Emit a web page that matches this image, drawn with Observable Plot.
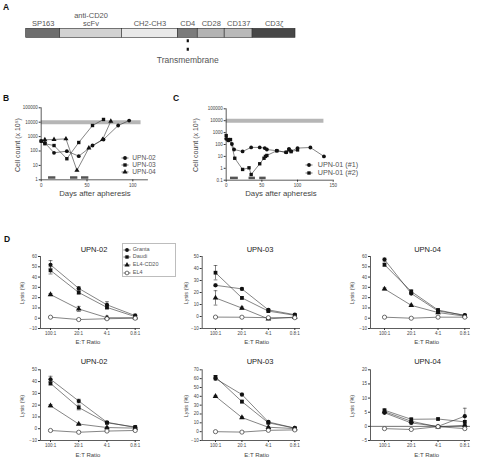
<!DOCTYPE html>
<html><head><meta charset="utf-8">
<script src="https://cdn.jsdelivr.net/npm/d3@7"></script>
<script src="https://cdn.jsdelivr.net/npm/@observablehq/plot@0.6"></script>
<style>
body{margin:0;background:#fff;}
#fig{position:relative;width:481px;height:459px;overflow:hidden;font-family:"Liberation Sans",Arial,sans-serif;color:#444;background:#fff;}
.abs{position:absolute;white-space:nowrap;line-height:1;}
</style></head><body><div id="fig"></div>
<script>
// ---------- Panel A: construct domains ----------
const domainNames = ["SP163", "anti-CD20\nscFv", "CH2-CH3", "CD4", "CD28", "CD137", "CD3ζ"];
const domainLengths = [34, 62, 56, 20, 27, 28, 43];
const domainShades = ["#6e6e6e", "#d2d2d2", "#e9e9e9", "#7b7b7b", "#b3b3b3", "#b9b9b9", "#474747"];
const transmembraneDomain = "CD4";

// ---------- Panel B: cell counts (x10^5) ----------
const upn02Days = [0, 4, 14, 28, 41, 56, 68, 84, 96];
const upn02Cells = [490, 370, 75, 98, 44, 240, 630, 5900, 13000];
const upn03Days = [0, 4, 14, 28, 41, 56, 68];
const upn03Cells = [490, 320, 240, 29, 390, 5900, 15500];
const upn04Days = [4, 14, 27, 39, 52, 67, 76];
const upn04Cells = [600, 630, 700, 4.5, 160, 630, 11800];
const targetDoseCells = 10000;
const bDoseEndDay = 109;
const bTreatments = [[8, 16], [32, 40], [44, 52]];
const bYTicks = [1, 10, 100, 1000, 10000, 100000];
const bXTicks = [0, 50, 100];

// ---------- Panel C ----------
const upn01aDays = [0, 3, 8, 11, 23, 35, 47, 54, 57, 71, 84, 88, 91, 100, 118, 137];
const upn01aCells = [300, 220, 110, 38, 26, 57, 57, 50, 38, 30, 22, 43, 28, 50, 56, 10];
const upn01bDays = [0, 3, 6, 12, 23, 32, 35, 47, 53, 55, 57, 71, 84, 88, 91, 100];
const upn01bCells = [560, 260, 260, 7, 0.8, 1.1, 0.3, 2.4, 7, 10, 12, 30, 22, 35, 25, 35];
const cDoseEndDay = 137;
const cTreatments = [[6, 17], [32, 41], [47, 56]];
const cYTicks = [0.1, 1, 10, 100, 1000, 10000, 100000];
const cXTicks = [0, 50, 100, 150];

// ---------- Panel D: lysis (%) ----------
const ratios = ["100:1", "20:1", "4:1", "0.8:1"];
const targets = ["Granta", "Daudi", "EL4-CD20", "EL4"];
const lysisTop02 = [[52, 29, 13, 2.5], [46.5, 25, 10.5, 1.5], [23, 9, 0.5, 0.5], [1, -1.3, -0.5, 0]];
const errTop02 = [[4, 1.5, 3, 1.5], [3.5, 1.5, 1.5, 1], [1, 2.5, 1.5, 0.5], [0.5, 0.5, 0.5, 0.5]];
const lysisTop03 = [[26, 23, 5.5, 1.5], [36.5, 15.5, 4.5, 1], [15.5, 7, -2, -0.5], [-0.5, -0.6, -1, -1]];
const errTop03 = [[1, 1, 1, 0.5], [6, 1, 1, 1], [6, 1, 0.5, 0.5], [0.5, 0.5, 0.5, 0.5]];
const lysisTop04 = [[57, 24, 7, 3], [52, 26, 8, 2.5], [28.5, 12.5, 5.5, 2], [1, 0, 1, 1]];
const errTop04 = [[1.5, 1, 1, 0.5], [1.5, 1.5, 1, 0.5], [1, 1, 0.5, 0.5], [0.5, 0.5, 0.5, 0.5]];
const lysisBot02 = [[42, 23.5, 5.5, 1], [38.5, 18, 5, 1.5], [19.5, 4, 1, 0.5], [-1.5, -3, -2, -1.5]];
const errBot02 = [[2.5, 1.5, 0.5, 0.5], [1.5, 2, 1, 0.5], [1, 0.5, 0.5, 0.5], [0.5, 0.5, 0.5, 0.5]];
const lysisBot03 = [[60, 42, 11, 4], [62, 34, 10, 4], [40, 16, 5, 3.5], [0, -0.5, 1.5, 2]];
const errBot03 = [[1.5, 1.5, 1.5, 0.5], [1.5, 1.5, 1, 0.5], [1, 1, 0.5, 0.5], [0.5, 0.5, 0.5, 0.5]];
const lysisBot04 = [[4.8, 1.2, 0, 3.6], [5.7, 2.5, 2.6, 1.6], [5.2, 1.8, -0.2, 0.4], [-0.8, -1.1, -0.1, -0.8]];
const errBot04 = [[0.3, 0.3, 0.3, 2.8], [0.4, 0.4, 0.3, 0.4], [0.3, 0.3, 0.3, 0.3], [0.2, 0.2, 0.2, 0.2]];
const ticksTop02 = [-10, 0, 10, 20, 30, 40, 50, 60];
const ticksTop03 = [-10, 0, 10, 20, 30, 40, 50];
const ticksTop04 = [-10, 0, 10, 20, 30, 40, 50, 60];
const ticksBot02 = [-10, 0, 10, 20, 30, 40, 50];
const ticksBot03 = [-10, 0, 10, 20, 30, 40, 50, 60, 70];
const ticksBot04 = [-5, 0, 5, 10, 15, 20];

// ---------- helpers ----------
const fig = document.getElementById("fig");
const FONT = "Liberation Sans, Arial, sans-serif";
const INK = "#333";
function place(node, left, top) {
  node.style.position = "absolute";
  node.style.left = left + "px";
  node.style.top = top + "px";
  fig.appendChild(node);
}
function label(text, x, y, o = {}) {
  const d = document.createElement("div");
  d.className = "abs";
  d.textContent = text;
  d.style.left = x + "px";
  d.style.top = y + "px";
  d.style.fontSize = (o.size || 7) + "px";
  d.style.fontWeight = o.weight || "normal";
  d.style.color = o.color || "#444";
  const ax = o.anchor === "start" ? "0" : "-50%";
  d.style.transform = `translate(${ax},-50%)` + (o.rotate ? ` rotate(${o.rotate}deg)` : "");
  fig.appendChild(d);
}
const symbolTypes = {circle: d3.symbolCircle, square: d3.symbolSquare, triangle: d3.symbolTriangle};
function legendItem(cx, y, sym, open, text, r, fontSize, textX) {
  const svg = d3.create("svg").attr("width", 14).attr("height", 10)
    .style("position", "absolute").style("left", (cx - 7) + "px").style("top", (y - 5) + "px").style("overflow", "visible");
  svg.append("line").attr("x1", 3.5).attr("x2", 10.5).attr("y1", 5).attr("y2", 5).attr("stroke", INK).attr("stroke-width", 0.7);
  svg.append("path").attr("transform", "translate(7,5)")
    .attr("d", d3.symbol().type(symbolTypes[sym]).size(Math.PI * r * r)())
    .attr("fill", open ? "white" : "#111").attr("stroke", open ? INK : "none").attr("stroke-width", 0.7);
  fig.appendChild(svg.node());
  label(text, textX, y, {size: fontSize, anchor: "start", color: "#555"});
}
const baseStyle = {fontFamily: FONT, fontSize: "4.5px", color: "#444", background: "transparent", overflow: "visible"};

// ---------- Panel A ----------
{
  const ends = d3.cumsum(domainLengths);
  const segs = domainNames.map((name, i) => ({
    name, shade: domainShades[i], x1: ends[i] - domainLengths[i], x2: ends[i], mid: ends[i] - domainLengths[i] / 2
  }));
  const tm = segs.filter(d => d.name === transmembraneDomain);
  const W = 320, H = 70, left = 25.7, right = 295, top = 28.3, bottom = 37.3;
  const p = Plot.plot({
    width: W, height: H, marginLeft: left, marginRight: W - right, marginTop: top, marginBottom: H - bottom,
    style: baseStyle,
    x: {domain: [0, d3.sum(domainLengths)], axis: null},
    color: {type: "identity"},
    marks: [
      Plot.barX(segs, {x1: "x1", x2: "x2", fill: "shade", stroke: "#2a2a2a", strokeWidth: 0.6}),
      Plot.text(segs, {x: "mid", text: "name", frameAnchor: "top", lineAnchor: "bottom", dy: -2.6, fontSize: 7.5, fill: "#555", lineHeight: 1.15}),
      Plot.tickX(tm, {x: "mid", insetTop: 11, insetBottom: -13.4, stroke: "#111", strokeWidth: 2.2, strokeDasharray: "3,5.4"}),
      Plot.text(tm, {x: "mid", text: () => "Transmembrane", frameAnchor: "bottom", lineAnchor: "middle", dy: 22.7, fontSize: 8.5, fill: "#555"})
    ]
  });
  place(p, 0, 0);
}

// ---------- log panels B, C ----------
function logPanel(cfg) {
  const {L, T, W, H, xLeft, xRight, xDomain, yTopPx, yBotPx, yDomain, yTicks, xTicks, series, doseEnd, treatments} = cfg;
  const rows = [];
  series.forEach(s => s.days.forEach((d, i) => rows.push({name: s.name, sym: s.sym, day: d, cells: s.cells[i]})));
  const p = Plot.plot({
    width: W, height: H,
    marginLeft: xLeft - L, marginRight: L + W - xRight, marginTop: yTopPx - T, marginBottom: T + H - yBotPx,
    style: baseStyle,
    x: {domain: xDomain, label: null},
    y: {type: "log", domain: yDomain, label: null},
    symbol: {domain: ["circle", "square", "triangle"], range: ["circle", "square", "triangle"]},
    marks: [
      Plot.ruleY([targetDoseCells], {x1: 0, x2: doseEnd, stroke: "#b6b6b6", strokeWidth: 4}),
      Plot.ruleY(treatments, {x1: d => d[0], x2: d => d[1], y: () => yDomain[0], dy: -2.3, stroke: "#555", strokeWidth: 2.5}),
      Plot.ruleX([xDomain[0]], {stroke: INK, strokeWidth: 0.8}),
      Plot.ruleY([yDomain[0]], {stroke: INK, strokeWidth: 0.8}),
      Plot.axisY(yTicks, {tickSize: 2, tickPadding: 1.5, tickFormat: d => String(d), fontSize: 4.5, stroke: INK, fill: "#444", label: null}),
      Plot.axisX(xTicks, {tickSize: 2, tickPadding: 1.5, tickFormat: d => String(d), fontSize: 4.5, stroke: INK, fill: "#444", label: null}),
      Plot.line(rows, {x: "day", y: "cells", z: "name", stroke: INK, strokeWidth: 0.6}),
      Plot.dot(rows, {x: "day", y: "cells", symbol: "sym", fill: "#111", r: 1.9})
    ]
  });
  place(p, L, T);
}

logPanel({
  L: 0, T: 95, W: 165, H: 112, xLeft: 40.7, xRight: 147.9, xDomain: [0, 117],
  yTopPx: 107.3, yBotPx: 179.3, yDomain: [1, 100000], yTicks: bYTicks, xTicks: bXTicks,
  doseEnd: bDoseEndDay, treatments: bTreatments,
  series: [
    {name: "UPN-02", sym: "circle", days: upn02Days, cells: upn02Cells},
    {name: "UPN-03", sym: "square", days: upn03Days, cells: upn03Cells},
    {name: "UPN-04", sym: "triangle", days: upn04Days, cells: upn04Cells}
  ]
});
logPanel({
  L: 170, T: 95, W: 175, H: 112, xLeft: 225.7, xRight: 332.7, xDomain: [0, 150],
  yTopPx: 108.3, yBotPx: 179.7, yDomain: [0.1, 100000], yTicks: cYTicks, xTicks: cXTicks,
  doseEnd: cDoseEndDay, treatments: cTreatments,
  series: [
    {name: "UPN-01 (#1)", sym: "circle", days: upn01aDays, cells: upn01aCells},
    {name: "UPN-01 (#2)", sym: "square", days: upn01bDays, cells: upn01bCells}
  ]
});

label("A", 3, 7, {size: 8.5, weight: "bold", anchor: "start", color: "#111"});
label("B", 3, 98, {size: 8.5, weight: "bold", anchor: "start", color: "#111"});
label("C", 173, 98, {size: 8.5, weight: "bold", anchor: "start", color: "#111"});
label("D", 4, 238.5, {size: 8.5, weight: "bold", anchor: "start", color: "#111"});

label("Days after apheresis", 95, 193.5, {size: 7.8, color: "#444"});
label("Days after apheresis", 281, 193.5, {size: 7.8, color: "#444"});
label("Cell count (x 10⁵)", 16.5, 145, {size: 7, rotate: -90, color: "#444"});
label("Cell count (x 10⁵)", 195, 145, {size: 7, rotate: -90, color: "#444"});

legendItem(125, 158.4, "circle", false, "UPN-02", 1.9, 6.6, 132.3);
legendItem(125, 165.3, "square", false, "UPN-03", 1.9, 6.6, 132.3);
legendItem(125, 172.2, "triangle", false, "UPN-04", 1.9, 6.6, 132.3);
legendItem(309.3, 165, "circle", false, "UPN-01 (#1)", 1.9, 7.2, 317.7);
legendItem(309.3, 172.6, "square", false, "UPN-01 (#2)", 1.9, 7.2, 317.7);

// ---------- D panels ----------
const dCols = [
  {L: 0, W: 160, axisX: 40, p0: 50, p3: 134.7, right: 140, titleX: 94, yTitleX: 23.3, xTitleX: 88},
  {L: 160, W: 160, axisX: 201.7, p0: 215, p3: 294.3, right: 300, titleX: 260, yTitleX: 186.7, xTitleX: 256.7},
  {L: 320, W: 161, axisX: 370, p0: 384, p3: 464.3, right: 470, titleX: 427.5, yTitleX: 353.3, xTitleX: 426.7}
];
const dRows = [
  {T: 245, H: 95, yTop: 256, yBot: 328, titleY: 250, xTitleY: 341.7},
  {T: 360, H: 92, yTop: 369.3, yBot: 440, titleY: 361.7, xTitleY: 455}
];
const targetSymbols = ["circle", "square", "triangle", "circle"];

function lysisPanel(col, row, title, vals, errs, yTicks, zeroLine) {
  const rows = [];
  targets.forEach((t, j) => ratios.forEach((r, i) => rows.push({target: t, j, i, v: vals[j][i], e: errs[j][i]})));
  const step = (col.p3 - col.p0) / 3;
  const xDomain = [(col.axisX - col.p0) / step, (col.right - col.p0) / step];
  const yDomain = d3.extent(yTicks);
  const filled = rows.filter(d => d.j < 3);
  const open = rows.filter(d => d.j === 3);
  const cap = 0.07;
  const p = Plot.plot({
    width: col.W, height: row.H,
    marginLeft: col.axisX - col.L, marginRight: col.L + col.W - col.right,
    marginTop: row.yTop - row.T, marginBottom: row.T + row.H - row.yBot,
    style: baseStyle,
    x: {domain: xDomain, label: null},
    y: {domain: yDomain, label: null},
    symbol: {domain: targets, range: targetSymbols},
    marks: [
      zeroLine ? Plot.ruleY([0], {stroke: INK, strokeWidth: 0.7}) : null,
      Plot.ruleX([xDomain[0]], {stroke: INK, strokeWidth: 0.8}),
      Plot.ruleY([yDomain[0]], {stroke: INK, strokeWidth: 0.8}),
      Plot.axisY(yTicks, {tickSize: 2, tickPadding: 1.5, fontSize: 4.5, stroke: INK, fill: "#444", label: null}),
      Plot.axisX([0, 1, 2, 3], {tickSize: 2, tickPadding: 1.5, tickFormat: i => ratios[i], fontSize: 4.5, stroke: INK, fill: "#444", label: null}),
      Plot.ruleX(rows, {x: "i", y1: d => d.v - d.e, y2: d => d.v + d.e, stroke: INK, strokeWidth: 0.6}),
      Plot.link(rows, {x1: d => d.i - cap, x2: d => d.i + cap, y1: d => d.v + d.e, y2: d => d.v + d.e, stroke: INK, strokeWidth: 0.6}),
      Plot.link(rows, {x1: d => d.i - cap, x2: d => d.i + cap, y1: d => d.v - d.e, y2: d => d.v - d.e, stroke: INK, strokeWidth: 0.6}),
      Plot.line(rows, {x: "i", y: "v", z: "target", stroke: INK, strokeWidth: 0.6}),
      Plot.dot(filled, {x: "i", y: "v", symbol: "target", fill: "#111", r: 2.1}),
      Plot.dot(open, {x: "i", y: "v", symbol: "target", fill: "white", stroke: INK, strokeWidth: 0.7, r: 2.1})
    ]
  });
  place(p, col.L, row.T);
  label(title, col.titleX, row.titleY, {size: 7.5, color: "#222"});
  label("Lysis (%)", col.yTitleX, (row.yTop + row.yBot) / 2 + 1, {size: 5.5, rotate: -90, color: "#444"});
  label("E:T Ratio", col.xTitleX, row.xTitleY, {size: 6, color: "#444"});
}

lysisPanel(dCols[0], dRows[0], "UPN-02", lysisTop02, errTop02, ticksTop02, false);
lysisPanel(dCols[1], dRows[0], "UPN-03", lysisTop03, errTop03, ticksTop03, false);
lysisPanel(dCols[2], dRows[0], "UPN-04", lysisTop04, errTop04, ticksTop04, false);
lysisPanel(dCols[0], dRows[1], "UPN-02", lysisBot02, errBot02, ticksBot02, false);
lysisPanel(dCols[1], dRows[1], "UPN-03", lysisBot03, errBot03, ticksBot03, false);
lysisPanel(dCols[2], dRows[1], "UPN-04", lysisBot04, errBot04, ticksBot04, true);

// D legend box
{
  const box = document.createElement("div");
  box.style.cssText = "position:absolute;left:121.7px;top:243.3px;width:54px;height:33.4px;border:0.8px solid #bdbdbd;box-sizing:border-box;background:#fff;";
  fig.appendChild(box);
  const ys = [249.5, 257.2, 265, 272.7];
  targets.forEach((t, j) => legendItem(127.3, ys[j], targetSymbols[j], j === 3, t, 1.9, 5.5, 132.8));
}
</script></body></html>
